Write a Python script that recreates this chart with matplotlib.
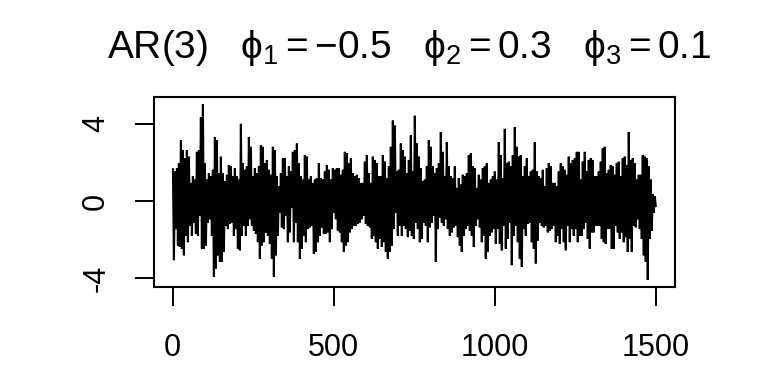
import numpy as np
import matplotlib
matplotlib.use("Agg")
import matplotlib.pyplot as plt

plt.rcParams['font.family'] = ['Liberation Sans', 'DejaVu Sans']
plt.rcParams['mathtext.fontset'] = 'custom'
plt.rcParams['mathtext.rm'] = 'Liberation Sans'
plt.rcParams['mathtext.it'] = 'Liberation Sans'
plt.rcParams['mathtext.bf'] = 'Liberation Sans:bold'

# Local highs / lows of the simulated AR(3) series
# (one high and one low for roughly every 6 time steps), left to right.
peaks_1 = [1.65, 1.53, 1.70, 1.96, 3.15, 2.64, 2.21, 2.64, 2.30, 0.94, 1.28, 1.11, 2.55, 2.64, 4.34, 5.02,
           1.96, 1.11, 1.45, 1.28, 1.62, 3.32, 3.15, 1.45, 2.30, 1.45, 1.02, 1.36, 1.87, 1.79, 1.28, 1.70,
           1.28, 1.11, 4.00, 1.96, 1.62, 1.79, 3.32, 2.81]
troughs_1 = [-3.06, -1.45, -2.30, -2.38, -2.47, -2.81, -1.79, -2.13, -1.28, -1.79, -1.11, -1.70, -1.79, -0.77,
             -2.47, -2.47, -2.30, -1.11, -0.94, -1.79, -3.91, -3.49, -2.81, -3.15, -3.15, -2.64, -1.28, -1.45,
             -1.19, -1.11, -1.79, -1.45, -2.47, -2.55, -1.79, -1.28, -1.79, -1.28, -0.94, -1.28]
peaks_2 = [1.28, 1.70, 1.45, 1.79, 2.89, 2.81, 1.96, 2.13, 1.62, 1.36, 2.81, 2.64, 1.28, 0.77, 1.45, 2.21,
           2.21, 1.28, 1.79, 1.53, 2.55, 2.64, 2.98, 1.96, 1.28, 1.11, 2.38, 2.30, 1.11, 1.28, 0.94, 1.11,
           1.19, 1.96, 1.19, 1.11, 1.53, 1.87, 1.62, 1.11, 1.70]
troughs_2 = [-1.53, -1.70, -2.13, -2.98, -2.30, -2.13, -1.62, -1.79, -2.21, -2.98, -3.91, -2.81, -1.79, -0.60,
             -1.36, -1.45, -0.77, -2.13, -1.62, -0.34, -2.13, -1.11, -2.13, -2.98, -2.47, -1.79, -2.13, -1.45,
             -1.36, -1.28, -2.72, -2.64, -2.13, -1.79, -1.36, -1.70, -1.70, -1.62, -2.13, -1.45, -0.60]
peaks_3 = [1.62, 1.70, 1.70, 1.36, 1.62, 2.55, 2.47, 1.96, 2.21, 1.45, 1.28, 1.36, 1.19, 0.94, 0.94, 2.04,
           2.38, 1.45, 0.94, 2.30, 2.13, 1.96, 1.28, 1.28, 2.38, 2.04, 1.19, 1.79, 2.81, 4.17, 3.91, 1.53,
           1.62, 2.98, 2.64, 2.30, 1.45, 2.13, 3.40, 1.53, 4.42]
troughs_3 = [-0.94, -1.53, -1.62, -2.13, -2.64, -2.30, -2.13, -1.62, -1.45, -1.28, -1.28, -1.19, -1.11, -0.94,
             -0.77, -1.19, -1.28, -1.36, -1.96, -1.79, -2.13, -2.47, -1.96, -2.38, -2.13, -2.64, -2.98, -2.64,
             -2.30, -1.45, -0.60, -1.79, -1.28, -1.79, -1.28, -1.45, -1.87, -1.53, -1.79, -1.96, -1.11]
peaks_4 = [2.98, 2.30, 1.70, 1.02, 1.11, 1.79, 3.15, 2.81, 1.79, 1.45, 1.70, 1.96, 3.57, 2.55, 1.28, 3.06,
           1.79, 1.28, 1.19, 1.79, 0.68, 1.19, 0.85, 1.36, 1.28, 1.45, 2.38, 2.47, 1.79, 1.70, 0.68, 1.36,
           1.11, 1.70, 1.79, 1.96, 0.94, 1.11, 1.28, 1.53, 1.11]
troughs_4 = [-1.45, -2.13, -1.96, -1.11, -1.28, -2.13, -1.36, -1.11, -0.77, -3.15, -1.45, -0.85, -1.11, -1.28,
             -0.94, -1.45, -1.79, -1.62, -1.36, -1.28, -1.87, -2.30, -2.64, -1.79, -1.45, -1.28, -1.53, -1.79,
             -2.38, -1.28, -0.94, -1.36, -2.13, -1.79, -2.98, -2.64, -1.79, -1.62, -1.45, -2.21, -1.45]
peaks_5 = [3.06, 2.38, 1.19, 3.74, 1.96, 2.04, 1.79, 2.38, 3.83, 2.81, 2.30, 2.38, 1.28, 1.79, 2.21, 1.28,
           1.53, 1.62, 3.06, 1.53, 1.28, 1.19, 1.62, 0.77, 1.70, 1.96, 1.79, 0.94, 0.94, 0.77, 1.53, 1.96,
           1.79, 1.62, 1.36, 2.30, 1.96, 2.13, 2.21, 2.55, 2.55]
troughs_5 = [-2.21, -2.55, -1.28, -2.47, -1.96, -1.11, -3.32, -1.79, -1.28, -2.13, -2.98, -3.40, -1.45, -1.79,
             -1.19, -1.11, -2.13, -2.47, -3.23, -2.04, -1.11, -1.28, -1.36, -1.28, -1.62, -1.53, -1.45, -1.28,
             -2.13, -1.79, -2.21, -1.45, -2.13, -2.55, -1.28, -2.13, -1.45, -1.79, -1.45, -2.13, -1.79]
peaks_6 = [1.11, 2.04, 2.55, 1.53, 2.13, 2.21, 2.13, 1.28, 1.28, 1.53, 2.04, 2.72, 2.81, 1.45, 1.62, 1.87,
           1.79, 1.36, 1.96, 2.04, 1.28, 2.21, 2.30, 1.87, 3.57, 2.13, 2.21, 1.96, 1.11, 1.36, 1.36, 2.38,
           2.30, 2.21, 1.79, 1.11, 0.34, 0.26]
troughs_6 = [-1.79, -1.45, -1.11, -1.96, -2.47, -1.62, -1.62, -1.28, -1.28, -1.28, -1.96, -2.13, -2.21, -1.45,
             -1.45, -2.47, -2.47, -1.28, -1.62, -1.96, -1.62, -2.13, -1.87, -2.64, -1.96, -2.64, -1.28, -1.36,
             -0.94, -1.45, -1.96, -2.81, -3.15, -4.08, -1.96, -1.53, -0.60, -0.26]

n_obs = 1500
x_ticks = [0, 500, 1000, 1500]
y_ticks = [-4, 0, 4]
title = r"AR(3)   $\phi_1 = -0.5$   $\phi_2 = 0.3$   $\phi_3 = 0.1$"

peaks = peaks_1 + peaks_2 + peaks_3 + peaks_4 + peaks_5 + peaks_6
troughs = troughs_1 + troughs_2 + troughs_3 + troughs_4 + troughs_5 + troughs_6
series = np.empty(2 * len(peaks))
series[0::2] = peaks
series[1::2] = troughs
t = np.linspace(1, n_obs, len(series))

fig = plt.figure(figsize=(7.68, 3.84), dpi=100)
ax = fig.add_axes([0.2, 0.253, 0.679, 0.494])
ax.plot(t, series, color='black', lw=1.5, solid_joinstyle='miter')

# R-style 4% padding
xr = n_obs - 1
ax.set_xlim(1 - 0.04 * xr, n_obs + 0.04 * xr)
ymin, ymax = series.min(), series.max()
yr = ymax - ymin
ax.set_ylim(ymin - 0.04 * yr, ymax + 0.04 * yr)

ax.set_xticks(x_ticks)
ax.set_yticks(y_ticks)
ax.set_yticklabels([str(v) for v in y_ticks], rotation=90, va='center')
ax.tick_params(axis='x', length=13.5, width=1.4, pad=20, labelsize=22)
ax.tick_params(axis='y', length=13.5, width=1.4, pad=17, labelsize=22)
for s in ax.spines.values():
    s.set_linewidth(1.5)

fig.text(0.533, 0.875, title, ha='center', va='center', fontsize=28)

fig.savefig("out.png", dpi=100)
